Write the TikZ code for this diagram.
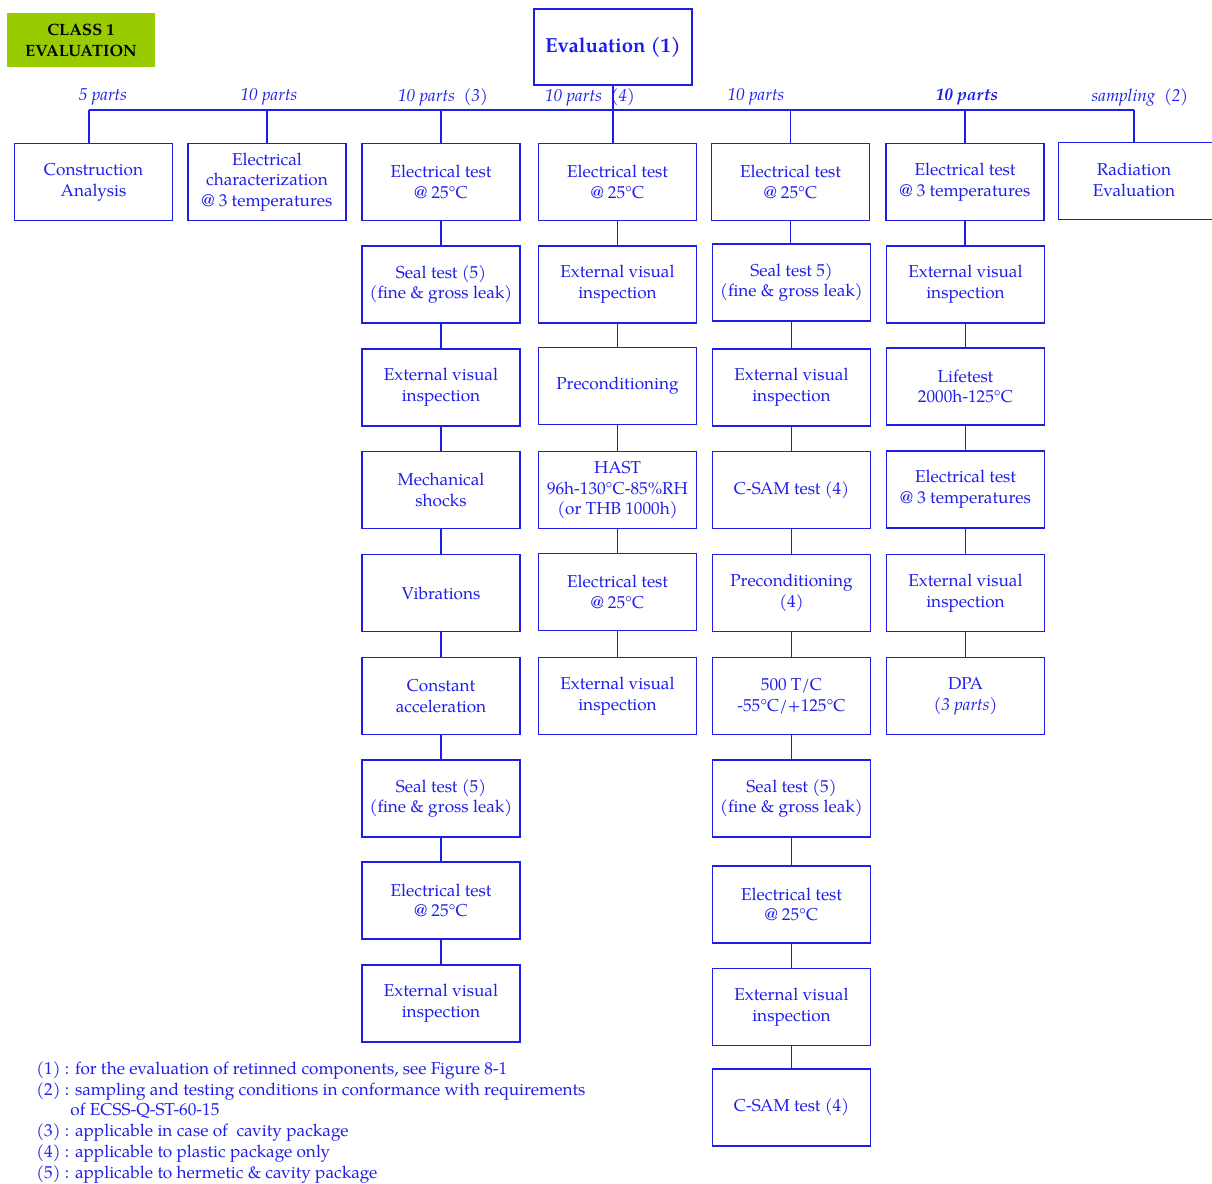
\documentclass[tikz,border=0pt]{standalone}
\usepackage{fontspec}
\setmainfont{texgyrepagella}[Extension=.otf, UprightFont=*-regular, BoldFont=*-bold, ItalicFont=*-italic, BoldItalicFont=*-bolditalic]
\definecolor{ecb}{RGB}{30,30,235}
\definecolor{limebg}{RGB}{153,204,0}
\begin{document}
\begin{tikzpicture}[x=0.5pt,y=-0.5pt,
  bx/.style={draw=ecb, line width=0.7pt, minimum width=79pt, minimum height=38.5pt,
    align=center, inner sep=1pt, text=ecb, font=\fontsize{8.6}{10.4}\selectfont},
  lbl/.style={text=ecb, font=\fontsize{8.6}{10.4}\selectfont\itshape, inner sep=0},
  conn/.style={draw=ecb, line width=0.7pt}]
\useasboundingbox (0,0) rectangle (1212,1184);

% header
\node[fill=limebg, minimum width=74pt, minimum height=27pt, inner sep=0, align=center,
  font=\fontsize{8.2}{10.5}\selectfont\bfseries] (cls) at (81,40) {CLASS 1\\EVALUATION};
\node[bx, minimum height=38pt, font=\fontsize{10.2}{12}\selectfont\bfseries] (eval) at (613,47) {Evaluation (1)};

% top row
\node[bx] (cons) at (93.5,182) {Construction\\Analysis};
\node[bx] (echar) at (267,182) {Electrical\\characterization\\@ 3 temperatures};
\node[bx] (a1) at (441,182) {Electrical test\\@ 25°C};
\node[bx] (b1) at (617.5,182) {Electrical test\\@ 25°C};
\node[bx] (c1) at (790.5,182) {Electrical test\\@ 25°C};
\node[bx] (d1) at (965,182) {Electrical test\\@ 3 temperatures};
\node[bx, anchor=north west] (rad) at (1058,142) {};
\node[text=ecb, font=\fontsize{8.6}{10.4}\selectfont, align=center] (radt) at (1134,180) {Radiation\\Evaluation};

% column 3
\node[bx] (a2) at (441,284.5) {Seal test (5)\\(fine \& gross leak)};
\node[bx] (a3) at (441,387.5) {External visual\\inspection};
\node[bx] (a4) at (441,490) {Mechanical\\shocks};
\node[bx] (a5) at (441,593) {Vibrations};
\node[bx] (a6) at (441,696) {Constant\\acceleration};
\node[bx] (a7) at (441,798.5) {Seal test (5)\\(fine \& gross leak)};
\node[bx] (a8) at (441,900.5) {Electrical test\\@ 25°C};
\node[bx] (a9) at (441,1003.5) {External visual\\inspection};

% column 4
\node[bx] (b2) at (617.5,284.5) {External visual\\inspection};
\node[bx] (b3) at (617.5,386) {Preconditioning};
\node[bx] (b4) at (617.5,490) {HAST\\96h-130°C-85\%RH\\(or THB 1000h)};
\node[bx] (b5) at (617.5,592) {Electrical test\\@ 25°C};
\node[bx] (b6) at (617.5,696) {External visual\\inspection};

% column 5
\node[bx] (c2) at (791.5,282.5) {Seal test 5)\\(fine \& gross leak)};
\node[bx] (c3) at (791.5,387.5) {External visual\\inspection};
\node[bx] (c4) at (791.5,490) {C-SAM test (4)};
\node[bx] (c5) at (791.5,593) {Preconditioning\\(4)};
\node[bx] (c6) at (791.5,696) {500 T/C\\-55°C/+125°C};
\node[bx] (c7) at (791.5,798.5) {Seal test (5)\\(fine \& gross leak)};
\node[bx] (c8) at (791.5,904.5) {Electrical test\\@ 25°C};
\node[bx] (c9) at (791.5,1007) {External visual\\inspection};
\node[bx] (c10) at (791.5,1107.5) {C-SAM test (4)};

% column 6
\node[bx] (d2) at (965.5,284.5) {External visual\\inspection};
\node[bx] (d3) at (965.5,386.5) {Lifetest\\2000h-125°C};
\node[bx] (d4) at (965.5,489.5) {Electrical test\\@ 3 temperatures};
\node[bx] (d5) at (965.5,593) {External visual\\inspection};
\node[bx] (d6) at (965.5,696) {DPA\\{\itshape (3 parts)}};

% distribution bar
\coordinate (bar) at (0,110);
\coordinate (barL) at (89,110);
\draw[conn] (barL) -- (radt.center |- bar);
\draw[conn] (barL) -- (barL |- cons.north);
\foreach \n in {echar,a1,c1,d1}{\draw[conn] (\n.north |- bar) -- (\n.north);}
\draw[conn] (radt.center |- bar) -- (rad.north -| radt.center);
\draw[conn] (eval.south) -- (eval.south |- b1.north);

% labels
\node[lbl] (l1) at (103,97) {5 parts};
\node[lbl] (l2) at (269,97) {10 parts};
\node[lbl] (l3) at (443,97) {10 parts\ \ (3)};
\node[lbl] (l4) at (590,97) {10 parts\ \ (4)};
\node[lbl] (l5) at (756,97) {10 parts};
\node[lbl, font=\fontsize{8.6}{10.4}\selectfont\itshape\bfseries] (l6) at (967,97) {10 parts};
\node[lbl] (l7) at (1140,97) {sampling\ \ (2)};

% chains
\foreach \p/\q in {a1/a2,a2/a3,a3/a4,a4/a5,a5/a6,a6/a7,a7/a8,a8/a9,
  b1/b2,b2/b3,b3/b4,b4/b5,b5/b6,
  c1/c2,c2/c3,c3/c4,c4/c5,c5/c6,c6/c7,c7/c8,c8/c9,c9/c10,
  d1/d2,d2/d3,d3/d4,d4/d5,d5/d6}{
  \draw[conn] (\p.south) -- (\p.south |- \q.north);
}

% footnotes
\node[anchor=north west, align=left, text=ecb, inner sep=0,
  font=\fontsize{8.6}{10.4}\selectfont] (notes) at (36,1061) {%
(1) : for the evaluation of retinned components, see Figure 8-1\\
(2) : sampling and testing conditions in conformance with requirements\\
\hspace*{17pt}of ECSS-Q-ST-60-15\\
(3) : applicable in case of \ cavity package\\
(4) : applicable to plastic package only\\
(5) : applicable to hermetic \& cavity package};
\end{tikzpicture}
\end{document}
